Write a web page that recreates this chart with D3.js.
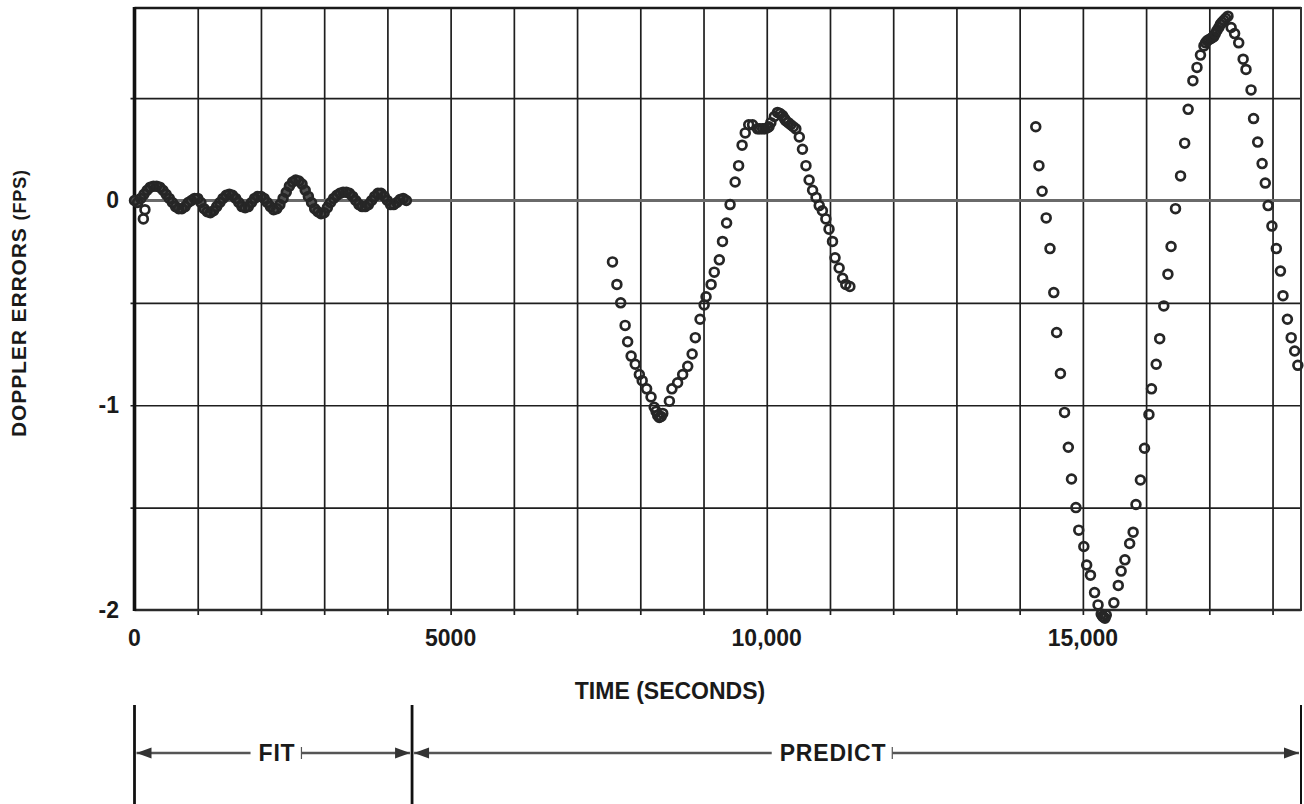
<!DOCTYPE html>
<html>
<head>
<meta charset="utf-8">
<script src="https://cdn.jsdelivr.net/npm/d3@7"></script>
<style>
  body { margin: 0; background: #fff; }
  svg { display: block; font-family: 'Liberation Sans', Arial, Helvetica, sans-serif; font-weight: bold; }
</style>
</head>
<body>
<svg id="chart" width="1304" height="804"></svg>
<script>
// Doppler residuals during the fit span, [time (s), error (fps)]
const fitData = [
  [0, 0.00], [50, -0.01], [100, 0.01], [150, 0.03], [200, 0.05], [250, 0.065], [300, 0.07],
  [350, 0.07], [400, 0.065], [450, 0.05], [500, 0.03], [550, 0.01], [600, -0.01], [650, -0.03],
  [700, -0.04], [750, -0.04], [800, -0.03], [850, -0.01], [900, 0.00], [950, 0.01], [1000, 0.01],
  [1050, -0.01], [1100, -0.04], [1150, -0.055], [1200, -0.06], [1250, -0.05], [1300, -0.03],
  [1350, -0.01], [1400, 0.01], [1450, 0.025], [1500, 0.03], [1550, 0.025], [1600, 0.01],
  [1650, -0.01], [1700, -0.03], [1750, -0.035], [1800, -0.03], [1850, -0.01], [1900, 0.01],
  [1950, 0.02], [2000, 0.02], [2050, 0.01], [2100, -0.01], [2150, -0.03], [2200, -0.045],
  [2250, -0.04], [2300, -0.02], [2350, 0.01], [2400, 0.04], [2450, 0.07], [2500, 0.09],
  [2550, 0.10], [2600, 0.095], [2650, 0.08], [2700, 0.05], [2750, 0.02], [2800, -0.01],
  [2850, -0.04], [2900, -0.055], [2950, -0.065], [3000, -0.06], [3050, -0.035], [3100, -0.01],
  [3150, 0.01], [3200, 0.025], [3250, 0.035], [3300, 0.04], [3350, 0.04], [3400, 0.035],
  [3450, 0.02], [3500, 0.00], [3550, -0.02], [3600, -0.03], [3650, -0.03], [3700, -0.02],
  [3750, 0.00], [3800, 0.02], [3850, 0.035], [3900, 0.035], [3950, 0.02], [4000, 0.00],
  [4050, -0.02], [4100, -0.02], [4150, -0.01], [4200, 0.005], [4250, 0.01], [4300, 0.00]
]

// two stray points right after the start of the fit
const fitStrays = [[140, -0.09], [165, -0.045]]

// first predicted pass
const predictPass1 = [
  [7560, -0.30], [7630, -0.41], [7690, -0.50], [7760, -0.61], [7800, -0.69], [7855, -0.76],
  [7920, -0.80], [7985, -0.85], [8030, -0.88], [8100, -0.92], [8170, -0.96], [8220, -1.01],
  [8250, -1.03], [8275, -1.05], [8300, -1.06], [8330, -1.055], [8355, -1.04], [8460, -0.98],
  [8500, -0.92], [8590, -0.89], [8670, -0.85], [8750, -0.81], [8820, -0.75], [8870, -0.67],
  [8945, -0.58], [9010, -0.51], [9040, -0.47], [9120, -0.41], [9170, -0.35], [9250, -0.29],
  [9300, -0.20], [9365, -0.11], [9420, -0.02], [9500, 0.09], [9555, 0.17], [9610, 0.27],
  [9660, 0.33], [9715, 0.37], [9775, 0.37], [9855, 0.35], [9890, 0.35], [9935, 0.35],
  [9970, 0.35], [10010, 0.355], [10035, 0.36], [10065, 0.38], [10120, 0.41], [10170, 0.43],
  [10210, 0.425], [10250, 0.415], [10280, 0.40], [10300, 0.39], [10340, 0.38], [10380, 0.37],
  [10420, 0.36], [10460, 0.35], [10515, 0.31], [10565, 0.25], [10620, 0.17], [10670, 0.10],
  [10725, 0.05], [10780, 0.015], [10830, -0.025], [10880, -0.05], [10935, -0.09], [10985, -0.14],
  [11040, -0.20], [11080, -0.28], [11145, -0.33], [11200, -0.38], [11250, -0.41], [11315, -0.42]
]

// second predicted pass
const predictPass2 = [
  [14255, 0.36], [14305, 0.17], [14355, 0.045], [14420, -0.085], [14480, -0.235], [14540, -0.45],
  [14585, -0.645], [14645, -0.845], [14710, -1.035], [14770, -1.205], [14820, -1.36], [14890, -1.50],
  [14935, -1.61], [15015, -1.69], [15060, -1.78], [15120, -1.83], [15185, -1.915], [15240, -1.975],
  [15290, -2.02], [15310, -2.03], [15330, -2.035], [15350, -2.04], [15370, -2.025], [15490, -1.965],
  [15560, -1.88], [15605, -1.81], [15665, -1.755], [15740, -1.675], [15795, -1.62], [15840, -1.485],
  [15910, -1.365], [15975, -1.21], [16045, -1.045], [16085, -0.92], [16160, -0.80], [16215, -0.675],
  [16280, -0.515], [16345, -0.36], [16395, -0.225], [16465, -0.04], [16545, 0.12], [16610, 0.28],
  [16665, 0.445], [16740, 0.585], [16805, 0.65], [16860, 0.71], [16915, 0.755], [16940, 0.77],
  [16965, 0.78], [16990, 0.785], [17020, 0.79], [17045, 0.795], [17070, 0.80], [17095, 0.815],
  [17120, 0.83], [17150, 0.845], [17175, 0.86], [17200, 0.87], [17230, 0.88], [17260, 0.89],
  [17295, 0.90], [17345, 0.845], [17400, 0.815], [17465, 0.77], [17535, 0.69], [17580, 0.64],
  [17660, 0.54], [17700, 0.40], [17765, 0.285], [17835, 0.18], [17885, 0.085], [17930, -0.025],
  [17990, -0.125], [18060, -0.235], [18125, -0.345], [18165, -0.465], [18235, -0.58], [18295, -0.67],
  [18350, -0.735], [18400, -0.805]
]

const xTicks = [0, 5000, 10000, 15000]
const xTickLabels = ['0', '5000', '10,000', '15,000']
const yTicks = [0, -1, -2]
const yTickLabels = ['0', '-1', '-2']
const xDomain = [0, 18450]
const yDomain = [-2, 0.94]
const fitEnd = 4390
const phaseLabels = ['FIT', 'PREDICT']

const svg = d3.select('#chart')
const margin = { left: 134.5, right: 3, top: 8, bottom: 194 }
const width = 1304
const height = 804

const xScale = d3.scaleLinear().domain(xDomain).range([margin.left, width - margin.right])
const yScale = d3.scaleLinear().domain(yDomain).range([height - margin.bottom, margin.top])

/**
 * Draws the background grid, every 1000 s and every 0.5 fps.
 */
function drawGrid (g) {
  g.append('g')
    .attr('class', 'x-grid')
    .call(d3.axisBottom(xScale)
      .tickValues(d3.range(1000, 18001, 1000))
      .tickSize(yScale(yDomain[0]) - yScale(yDomain[1]) + 5)
      .tickFormat(''))
    .attr('transform', 'translate(0,' + yScale(yDomain[1]) + ')')
    .call(s => s.select('.domain').remove())
    .selectAll('line')
    .attr('stroke', '#1e1e1e')
    .attr('stroke-width', 1.7)

  g.append('g')
    .attr('class', 'y-grid')
    .call(d3.axisLeft(yScale)
      .tickValues([0.5, -0.5, -1, -1.5])
      .tickSize(-(xScale(xDomain[1]) - xScale(0)) - 4)
      .tickFormat(''))
    .attr('transform', 'translate(' + (xScale(0) - 4) + ',0)')
    .call(s => s.select('.domain').remove())
    .selectAll('line')
    .attr('stroke', '#1e1e1e')
    .attr('stroke-width', 1.7)

  // zero reference line
  g.append('line')
    .attr('x1', xScale(0) - 4)
    .attr('x2', xScale(xDomain[1]))
    .attr('y1', yScale(0))
    .attr('y2', yScale(0))
    .attr('stroke', '#6a6a6a')
    .attr('stroke-width', 2.8)
}

/**
 * Draws the frame and the tick labels.
 */
function drawAxes (g) {
  const x0 = xScale(xDomain[0])
  const x1 = xScale(xDomain[1])
  const y0 = yScale(yDomain[0])
  const y1 = yScale(yDomain[1])

  g.append('line').attr('x1', x0).attr('x2', x1).attr('y1', y1).attr('y2', y1)
    .attr('stroke', '#1a1a1a').attr('stroke-width', 2.6)
  g.append('line').attr('x1', x0).attr('x2', x1).attr('y1', y0).attr('y2', y0)
    .attr('stroke', '#2a2a2a').attr('stroke-width', 2.6)
  g.append('line').attr('x1', x0).attr('x2', x0).attr('y1', y1 - 1).attr('y2', y0 + 1)
    .attr('stroke', '#111').attr('stroke-width', 3.6)
  g.append('line').attr('x1', x1).attr('x2', x1).attr('y1', y1 - 1).attr('y2', y0 + 1)
    .attr('stroke', '#333').attr('stroke-width', 2)

  g.selectAll('.x-label')
    .data(xTicks)
    .enter()
    .append('text')
    .attr('class', 'x-label')
    .attr('x', d => xScale(d))
    .attr('y', y0 + 36)
    .attr('text-anchor', 'middle')
    .attr('font-size', 23)
    .attr('fill', '#1a1a1a')
    .text((d, i) => xTickLabels[i])

  g.selectAll('.y-label')
    .data(yTicks)
    .enter()
    .append('text')
    .attr('class', 'y-label')
    .attr('x', 119)
    .attr('y', d => yScale(d) + 8)
    .attr('text-anchor', 'end')
    .attr('font-size', 23)
    .attr('fill', '#1a1a1a')
    .text((d, i) => yTickLabels[i])

  g.append('text')
    .text('TIME (SECONDS)')
    .attr('x', 670)
    .attr('y', 699)
    .attr('text-anchor', 'middle')
    .attr('font-size', 23)
    .attr('fill', '#1a1a1a')

  const yTitle = g.append('text')
    .attr('transform', 'translate(26,' + 303 + ') rotate(-90)')
    .attr('text-anchor', 'middle')
    .attr('font-size', 21)
    .attr('letter-spacing', 0.9)
    .attr('fill', '#1a1a1a')
  yTitle.append('tspan').text('DOPPLER ERRORS ')
  yTitle.append('tspan').attr('font-size', 18).text('(FPS)')
}

/**
 * Draws the measured errors as open circles.
 */
function drawPoints (g, data) {
  g.append('g')
    .selectAll('circle')
    .data(data)
    .enter()
    .append('circle')
    .attr('cx', d => xScale(d[0]))
    .attr('cy', d => yScale(d[1]))
    .attr('r', 4.4)
    .attr('fill', 'none')
    .attr('stroke', '#262626')
    .attr('stroke-width', 2.7)
}

/**
 * The fit points sit so close together that they merge into a dark band;
 * a thick smooth stroke under the circles gives that band.
 */
function drawFitBand (g, data) {
  const line = d3.line()
    .x(d => xScale(d[0]))
    .y(d => yScale(d[1]))
    .curve(d3.curveMonotoneX)
  g.append('path')
    .datum(data)
    .attr('d', line)
    .attr('fill', 'none')
    .attr('stroke', '#505050')
    .attr('stroke-width', 8)
    .attr('stroke-linecap', 'round')
}

/**
 * Arrow head with its tip at (x, y), pointing left (dir -1) or right (dir 1).
 */
function arrowHead (g, x, y, dir) {
  const p = d3.path()
  p.moveTo(x, y)
  p.lineTo(x - dir * 15, y - 5.5)
  p.lineTo(x - dir * 15, y + 5.5)
  p.closePath()
  g.append('path').attr('d', p.toString()).attr('fill', '#333')
}

/**
 * Draws the FIT / PREDICT span brackets under the axis title.
 */
function drawSpans (g) {
  const yArrow = 753
  const bounds = [0, fitEnd, xDomain[1]]
  const labelX = [277, 833]

  bounds.forEach(b => {
    g.append('line')
      .attr('x1', xScale(b)).attr('x2', xScale(b))
      .attr('y1', 705).attr('y2', 804)
      .attr('stroke', '#111')
      .attr('stroke-width', b === xDomain[1] ? 2 : 2.8)
  })

  phaseLabels.forEach((label, i) => {
    const left = xScale(bounds[i]) + 2
    const right = xScale(bounds[i + 1]) - 2
    const text = g.append('text')
      .text(label)
      .attr('x', labelX[i])
      .attr('y', yArrow + 8)
      .attr('text-anchor', 'middle')
      .attr('font-size', 23)
      .attr('letter-spacing', 0.8)
      .attr('fill', '#1a1a1a')
    const w = text.node().getComputedTextLength()
    const gapL = labelX[i] - w / 2 - 8
    const gapR = labelX[i] + w / 2 + 6

    g.append('line').attr('x1', left).attr('x2', gapL).attr('y1', yArrow).attr('y2', yArrow)
      .attr('stroke', '#555').attr('stroke-width', 2.4)
    g.append('line').attr('x1', gapR).attr('x2', right).attr('y1', yArrow).attr('y2', yArrow)
      .attr('stroke', '#555').attr('stroke-width', 2.4)
    g.append('line').attr('x1', gapR).attr('x2', gapR).attr('y1', yArrow - 6).attr('y2', yArrow + 6)
      .attr('stroke', '#555').attr('stroke-width', 1.2)
    arrowHead(g, left, yArrow, -1)
    arrowHead(g, right, yArrow, 1)
  })
}

const root = svg.append('g')
drawGrid(root)
drawAxes(root)
drawFitBand(root, fitData)
drawPoints(root, fitData)
drawPoints(root, fitStrays)
drawPoints(root, predictPass1)
drawPoints(root, predictPass2)
drawSpans(root)
</script>
</body>
</html>
